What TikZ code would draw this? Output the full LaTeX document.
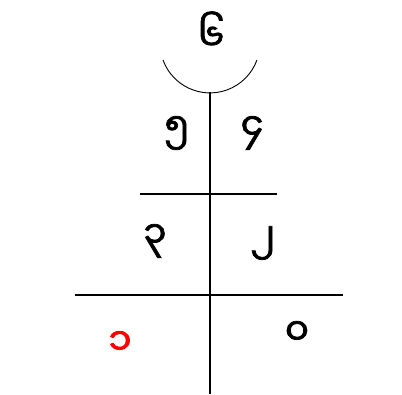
\documentclass[tikz,border=0pt]{standalone}
\usepackage{fontspec}
\newfontfamily\mya[Script=Myanmar,FakeBold=2]{Noto Sans Myanmar UI}
\begin{document}
\begin{tikzpicture}[x=1pt,y=-1pt,
  lbl/.style={font=\mya\fontsize{37}{40}\selectfont, inner sep=0pt},
  ln/.style={line width=1.1pt, black}]
\useasboundingbox (0,0) rectangle (402,394);
\coordinate (top) at (210,92);
\coordinate (bot) at (210,394);
\coordinate (h1l) at (140,194);
\coordinate (h1r) at (277,194);
\coordinate (h2l) at (75,295);
\coordinate (h2r) at (343,295);
\draw[line width=0.9pt] (163,60) arc[start angle=160, end angle=20, radius=50];
\draw[ln] (top) -- (bot);
\draw[ln] (h1l) -- (h1r);
\draw[ln] (h2l) -- (h2r);
\node[lbl] (n6) at (211,31) {၆};
\node[lbl] (n5) at (177,133) {၅};
\node[lbl] (n4) at (252,133) {၄};
\node[lbl] (n3) at (155,241) {၃};
\node[lbl] (n2) at (263,243) {၂};
\node[lbl, red] (n1) at (120,343) {၁};
\node[lbl] (n0) at (297,333) {၀};
\end{tikzpicture}
\end{document}
